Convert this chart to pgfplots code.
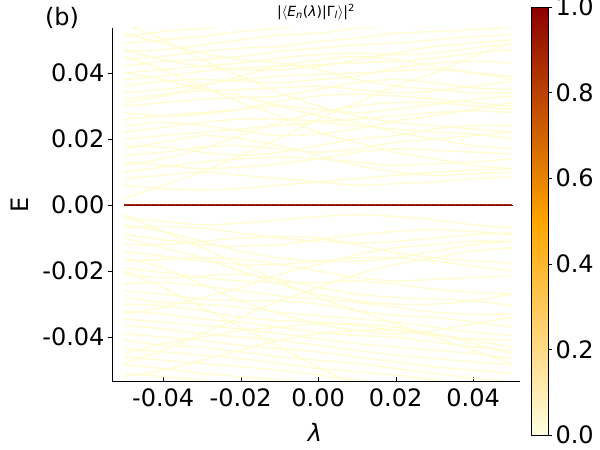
\documentclass[border=0pt]{standalone}
\usepackage{pgfplots}
\pgfplotsset{compat=1.18}
\usepackage{fontspec}
\setmainfont{DejaVu Sans}
\definecolor{lev}{RGB}{255,252,210}
\definecolor{zero}{RGB}{175,35,10}
\definecolor{zerod}{RGB}{100,0,0}
\pgfplotsset{colormap={heat}{rgb255=(255,255,224) rgb255=(255,165,0) rgb255=(139,0,0)},
  lv/.style={color=lev, solid, line width=1.4pt, smooth, mark=none}}
\begin{document}
\begin{tikzpicture}
\useasboundingbox (0pt,0pt) rectangle (600pt,450pt);
\begin{axis}[
  at={(112pt,69pt)}, anchor=south west,
  width=408pt, height=353pt, scale only axis,
  xmin=-0.0532, xmax=0.0521, ymin=-0.0533, ymax=0.0536,
  axis lines=left, axis line style={-},
  x axis line style={-}, y axis line style={-},
  scaled ticks=false,
  xtick={-0.04,-0.02,0,0.02,0.04},
  ytick={-0.04,-0.02,0,0.02,0.04},
  /pgf/number format/fixed, /pgf/number format/fixed zerofill, /pgf/number format/precision=2, /pgf/number format/assume math mode=true,
  ticklabel style={font=\fontsize{24}{28}\selectfont},
  major tick length=4pt, tick align=outside,
  tick style={black},
  x tick style={yshift=4pt},
]
\addplot[lv] coordinates {(-0.05,0.006)(-0.04,0.005)(-0.03,0.0045)(-0.02,0.005)(-0.01,0.006)(0,0.007)(0.01,0.008)(0.02,0.009)(0.03,0.010)(0.04,0.0105)(0.05,0.011)};
\addplot[lv] coordinates {(-0.05,0.008)(-0.04,0.009)(-0.03,0.010)(-0.02,0.009)(-0.01,0.008)(0,0.007)(0.01,0.006)(0.02,0.0065)(0.03,0.007)(0.04,0.008)(0.05,0.0085)};
\addplot[lv] coordinates {(-0.05,0.010)(-0.04,0.0115)(-0.03,0.013)(-0.02,0.014)(-0.01,0.0145)(0,0.014)(0.01,0.013)(0.02,0.012)(0.03,0.0125)(0.04,0.013)(0.05,0.014)};
\addplot[lv] coordinates {(-0.05,0.013)(-0.04,0.012)(-0.03,0.011)(-0.02,0.0115)(-0.01,0.0125)(0,0.014)(0.01,0.016)(0.02,0.017)(0.03,0.0165)(0.04,0.016)(0.05,0.0155)};
\addplot[lv] coordinates {(-0.05,0.015)(-0.04,0.016)(-0.03,0.0175)(-0.02,0.018)(-0.01,0.017)(0,0.016)(0.01,0.017)(0.02,0.019)(0.03,0.020)(0.04,0.021)(0.05,0.022)};
\addplot[lv] coordinates {(-0.05,0.018)(-0.04,0.0175)(-0.03,0.016)(-0.02,0.015)(-0.01,0.016)(0,0.018)(0.01,0.020)(0.02,0.021)(0.03,0.023)(0.04,0.024)(0.05,0.024)};
\addplot[lv] coordinates {(-0.05,0.020)(-0.04,0.021)(-0.03,0.022)(-0.02,0.023)(-0.01,0.024)(0,0.025)(0.01,0.024)(0.02,0.023)(0.03,0.022)(0.04,0.0215)(0.05,0.020)};
\addplot[lv] coordinates {(-0.05,0.022)(-0.04,0.0235)(-0.03,0.025)(-0.02,0.026)(-0.01,0.026)(0,0.0255)(0.01,0.026)(0.02,0.027)(0.03,0.028)(0.04,0.0285)(0.05,0.028)};
\addplot[lv] coordinates {(-0.05,0.024)(-0.04,0.025)(-0.03,0.024)(-0.02,0.0225)(-0.01,0.021)(0,0.0215)(0.01,0.023)(0.02,0.0255)(0.03,0.027)(0.04,0.029)(0.05,0.031)};
\addplot[lv] coordinates {(-0.05,0.026)(-0.04,0.027)(-0.03,0.028)(-0.02,0.029)(-0.01,0.030)(0,0.029)(0.01,0.028)(0.02,0.029)(0.03,0.0305)(0.04,0.032)(0.05,0.033)};
\addplot[lv] coordinates {(-0.05,0.028)(-0.04,0.027)(-0.03,0.0275)(-0.02,0.029)(-0.01,0.0315)(0,0.033)(0.01,0.0335)(0.02,0.033)(0.03,0.032)(0.04,0.031)(0.05,0.030)};
\addplot[lv] coordinates {(-0.05,0.030)(-0.04,0.031)(-0.03,0.032)(-0.02,0.0325)(-0.01,0.033)(0,0.035)(0.01,0.037)(0.02,0.038)(0.03,0.037)(0.04,0.0355)(0.05,0.035)};
\addplot[lv] coordinates {(-0.05,0.032)(-0.04,0.0335)(-0.03,0.0345)(-0.02,0.035)(-0.01,0.0355)(0,0.036)(0.01,0.035)(0.02,0.034)(0.03,0.0345)(0.04,0.036)(0.05,0.0375)};
\addplot[lv] coordinates {(-0.05,0.034)(-0.04,0.035)(-0.03,0.0365)(-0.02,0.038)(-0.01,0.039)(0,0.0395)(0.01,0.040)(0.02,0.0405)(0.03,0.041)(0.04,0.040)(0.05,0.039)};
\addplot[lv] coordinates {(-0.05,0.036)(-0.04,0.0375)(-0.03,0.038)(-0.02,0.0375)(-0.01,0.037)(0,0.038)(0.01,0.039)(0.02,0.0415)(0.03,0.043)(0.04,0.0435)(0.05,0.043)};
\addplot[lv] coordinates {(-0.05,0.038)(-0.04,0.039)(-0.03,0.0405)(-0.02,0.0415)(-0.01,0.042)(0,0.0425)(0.01,0.043)(0.02,0.0435)(0.03,0.0445)(0.04,0.046)(0.05,0.047)};
\addplot[lv] coordinates {(-0.05,0.040)(-0.04,0.041)(-0.03,0.042)(-0.02,0.043)(-0.01,0.0445)(0,0.0455)(0.01,0.046)(0.02,0.0455)(0.03,0.046)(0.04,0.0475)(0.05,0.049)};
\addplot[lv] coordinates {(-0.05,0.042)(-0.04,0.0435)(-0.03,0.044)(-0.02,0.045)(-0.01,0.0465)(0,0.0475)(0.01,0.0485)(0.02,0.049)(0.03,0.050)(0.04,0.051)(0.05,0.0515)};
\addplot[lv] coordinates {(-0.05,0.044)(-0.04,0.045)(-0.03,0.0465)(-0.02,0.0475)(-0.01,0.048)(0,0.0495)(0.01,0.0505)(0.02,0.052)(0.03,0.0525)(0.04,0.053)(0.05,0.054)};
\addplot[lv] coordinates {(-0.05,0.0465)(-0.04,0.047)(-0.03,0.0485)(-0.02,0.050)(-0.01,0.0515)(0,0.052)(0.01,0.0535)(0.02,0.0545)(0.03,0.055)(0.04,0.056)(0.05,0.057)};
\addplot[lv] coordinates {(-0.05,0.049)(-0.04,0.050)(-0.03,0.051)(-0.02,0.0525)(-0.01,0.0535)(0,0.055)(0.01,0.056)(0.02,0.0565)(0.03,0.0575)(0.04,0.058)(0.05,0.059)};
\addplot[lv] coordinates {(-0.05,0.051)(-0.04,0.0525)(-0.03,0.0535)(-0.02,0.055)(-0.01,0.056)(0,0.057)(0.01,0.058)(0.02,0.059)(0.03,0.060)(0.04,0.061)(0.05,0.062)};
\addplot[lv] coordinates {(-0.05,0.002)(-0.04,0.006)(-0.03,0.010)(-0.02,0.015)(-0.01,0.020)(0,0.026)(0.01,0.031)(0.02,0.036)(0.03,0.040)(0.04,0.045)(0.05,0.049)};
\addplot[lv] coordinates {(-0.05,0.045)(-0.04,0.041)(-0.03,0.036)(-0.02,0.031)(-0.01,0.027)(0,0.022)(0.01,0.019)(0.02,0.016)(0.03,0.014)(0.04,0.012)(0.05,0.011)};
\addplot[lv] coordinates {(-0.05,0.055)(-0.04,0.050)(-0.03,0.044)(-0.02,0.039)(-0.01,0.034)(0,0.030)(0.01,0.027)(0.02,0.025)(0.03,0.024)(0.04,0.023)(0.05,0.022)};
\addplot[lv] coordinates {(-0.05,0.047)(-0.04,0.044)(-0.03,0.042)(-0.02,0.041)(-0.01,0.041)(0,0.042)(0.01,0.044)(0.02,0.046)(0.03,0.048)(0.04,0.049)(0.05,0.050)};
\addplot[lv] coordinates {(-0.05,0.031)(-0.04,0.033)(-0.03,0.036)(-0.02,0.039)(-0.01,0.042)(0,0.044)(0.01,0.045)(0.02,0.044)(0.03,0.042)(0.04,0.040)(0.05,0.038)};
\addplot[lv] coordinates {(-0.05,0.017)(-0.04,0.019)(-0.03,0.021)(-0.02,0.020)(-0.01,0.018)(0,0.015)(0.01,0.012)(0.02,0.010)(0.03,0.009)(0.04,0.0095)(0.05,0.010)};
\addplot[lv] coordinates {(-0.05,0.052)(-0.04,0.049)(-0.03,0.046)(-0.02,0.044)(-0.01,0.043)(0,0.041)(0.01,0.038)(0.02,0.036)(0.03,0.035)(0.04,0.034)(0.05,0.034)};
\addplot[lv] coordinates {(-0.05,0.040)(-0.04,0.038)(-0.03,0.035)(-0.02,0.033)(-0.01,0.030)(0,0.027)(0.01,0.025)(0.02,0.022)(0.03,0.020)(0.04,0.018)(0.05,0.017)};
\addplot[lv] coordinates {(-0.05,0.012)(-0.04,0.014)(-0.03,0.017)(-0.02,0.021)(-0.01,0.025)(0,0.028)(0.01,0.030)(0.02,0.031)(0.03,0.031)(0.04,0.030)(0.05,0.029)};
\addplot[lv] coordinates {(-0.05,-0.004)(-0.04,-0.005)(-0.03,-0.006)(-0.02,-0.0055)(-0.01,-0.0045)(0,-0.0035)(0.01,-0.003)(0.02,-0.0035)(0.03,-0.0045)(0.04,-0.006)(0.05,-0.007)};
\addplot[lv] coordinates {(-0.05,-0.007)(-0.04,-0.0065)(-0.03,-0.007)(-0.02,-0.0085)(-0.01,-0.010)(0,-0.011)(0.01,-0.0115)(0.02,-0.011)(0.03,-0.010)(0.04,-0.009)(0.05,-0.0085)};
\addplot[lv] coordinates {(-0.05,-0.009)(-0.04,-0.0105)(-0.03,-0.012)(-0.02,-0.0125)(-0.01,-0.012)(0,-0.0105)(0.01,-0.009)(0.02,-0.008)(0.03,-0.0075)(0.04,-0.008)(0.05,-0.009)};
\addplot[lv] coordinates {(-0.05,-0.012)(-0.04,-0.012)(-0.03,-0.011)(-0.02,-0.010)(-0.01,-0.0095)(0,-0.010)(0.01,-0.012)(0.02,-0.0145)(0.03,-0.016)(0.04,-0.017)(0.05,-0.0175)};
\addplot[lv] coordinates {(-0.05,-0.014)(-0.04,-0.0155)(-0.03,-0.017)(-0.02,-0.018)(-0.01,-0.018)(0,-0.017)(0.01,-0.016)(0.02,-0.016)(0.03,-0.017)(0.04,-0.0185)(0.05,-0.020)};
\addplot[lv] coordinates {(-0.05,-0.017)(-0.04,-0.0165)(-0.03,-0.016)(-0.02,-0.0165)(-0.01,-0.018)(0,-0.020)(0.01,-0.022)(0.02,-0.023)(0.03,-0.0225)(0.04,-0.022)(0.05,-0.0215)};
\addplot[lv] coordinates {(-0.05,-0.019)(-0.04,-0.0205)(-0.03,-0.022)(-0.02,-0.023)(-0.01,-0.0235)(0,-0.0235)(0.01,-0.023)(0.02,-0.024)(0.03,-0.0255)(0.04,-0.0265)(0.05,-0.027)};
\addplot[lv] coordinates {(-0.05,-0.021)(-0.04,-0.022)(-0.03,-0.0215)(-0.02,-0.021)(-0.01,-0.0225)(0,-0.025)(0.01,-0.027)(0.02,-0.028)(0.03,-0.0285)(0.04,-0.029)(0.05,-0.0305)};
\addplot[lv] coordinates {(-0.05,-0.024)(-0.04,-0.0235)(-0.03,-0.0245)(-0.02,-0.026)(-0.01,-0.0275)(0,-0.0285)(0.01,-0.0295)(0.02,-0.031)(0.03,-0.0325)(0.04,-0.033)(0.05,-0.033)};
\addplot[lv] coordinates {(-0.05,-0.026)(-0.04,-0.027)(-0.03,-0.0285)(-0.02,-0.029)(-0.01,-0.029)(0,-0.030)(0.01,-0.032)(0.02,-0.0335)(0.03,-0.034)(0.04,-0.0355)(0.05,-0.037)};
\addplot[lv] coordinates {(-0.05,-0.028)(-0.04,-0.0295)(-0.03,-0.030)(-0.02,-0.031)(-0.01,-0.0325)(0,-0.0335)(0.01,-0.0345)(0.02,-0.0355)(0.03,-0.037)(0.04,-0.0385)(0.05,-0.0395)};
\addplot[lv] coordinates {(-0.05,-0.030)(-0.04,-0.0305)(-0.03,-0.032)(-0.02,-0.034)(-0.01,-0.035)(0,-0.0355)(0.01,-0.0365)(0.02,-0.038)(0.03,-0.0395)(0.04,-0.0405)(0.05,-0.041)};
\addplot[lv] coordinates {(-0.05,-0.032)(-0.04,-0.033)(-0.03,-0.0345)(-0.02,-0.0355)(-0.01,-0.037)(0,-0.0385)(0.01,-0.0395)(0.02,-0.040)(0.03,-0.0415)(0.04,-0.043)(0.05,-0.044)};
\addplot[lv] coordinates {(-0.05,-0.0345)(-0.04,-0.0355)(-0.03,-0.0365)(-0.02,-0.0375)(-0.01,-0.039)(0,-0.0405)(0.01,-0.042)(0.02,-0.043)(0.03,-0.044)(0.04,-0.045)(0.05,-0.0465)};
\addplot[lv] coordinates {(-0.05,-0.0365)(-0.04,-0.0375)(-0.03,-0.039)(-0.02,-0.040)(-0.01,-0.041)(0,-0.0425)(0.01,-0.044)(0.02,-0.0455)(0.03,-0.0465)(0.04,-0.0475)(0.05,-0.0485)};
\addplot[lv] coordinates {(-0.05,-0.039)(-0.04,-0.040)(-0.03,-0.041)(-0.02,-0.0425)(-0.01,-0.0435)(0,-0.0445)(0.01,-0.046)(0.02,-0.0475)(0.03,-0.049)(0.04,-0.050)(0.05,-0.051)};
\addplot[lv] coordinates {(-0.05,-0.041)(-0.04,-0.0425)(-0.03,-0.043)(-0.02,-0.0445)(-0.01,-0.046)(0,-0.047)(0.01,-0.048)(0.02,-0.0495)(0.03,-0.051)(0.04,-0.0525)(0.05,-0.0535)};
\addplot[lv] coordinates {(-0.05,-0.0435)(-0.04,-0.0445)(-0.03,-0.0455)(-0.02,-0.0465)(-0.01,-0.048)(0,-0.0495)(0.01,-0.0505)(0.02,-0.0515)(0.03,-0.053)(0.04,-0.0545)(0.05,-0.056)};
\addplot[lv] coordinates {(-0.05,-0.046)(-0.04,-0.047)(-0.03,-0.048)(-0.02,-0.049)(-0.01,-0.050)(0,-0.0515)(0.01,-0.053)(0.02,-0.054)(0.03,-0.055)(0.04,-0.0565)(0.05,-0.058)};
\addplot[lv] coordinates {(-0.05,-0.0485)(-0.04,-0.0495)(-0.03,-0.051)(-0.02,-0.052)(-0.01,-0.053)(0,-0.054)(0.01,-0.0555)(0.02,-0.0565)(0.03,-0.0575)(0.04,-0.059)(0.05,-0.060)};
\addplot[lv] coordinates {(-0.05,-0.051)(-0.04,-0.052)(-0.03,-0.053)(-0.02,-0.0545)(-0.01,-0.0555)(0,-0.0565)(0.01,-0.0575)(0.02,-0.059)(0.03,-0.060)(0.04,-0.061)(0.05,-0.062)};
\addplot[lv] coordinates {(-0.05,-0.003)(-0.04,-0.008)(-0.03,-0.013)(-0.02,-0.018)(-0.01,-0.023)(0,-0.028)(0.01,-0.032)(0.02,-0.036)(0.03,-0.040)(0.04,-0.044)(0.05,-0.048)};
\addplot[lv] coordinates {(-0.05,-0.048)(-0.04,-0.044)(-0.03,-0.039)(-0.02,-0.034)(-0.01,-0.029)(0,-0.025)(0.01,-0.021)(0.02,-0.018)(0.03,-0.016)(0.04,-0.014)(0.05,-0.013)};
\addplot[lv] coordinates {(-0.05,-0.020)(-0.04,-0.025)(-0.03,-0.031)(-0.02,-0.037)(-0.01,-0.043)(0,-0.049)(0.01,-0.055)(0.02,-0.060)(0.03,-0.064)(0.04,-0.067)(0.05,-0.070)};
\addplot[lv] coordinates {(-0.05,-0.010)(-0.04,-0.013)(-0.03,-0.016)(-0.02,-0.020)(-0.01,-0.024)(0,-0.027)(0.01,-0.029)(0.02,-0.030)(0.03,-0.030)(0.04,-0.029)(0.05,-0.027)};
\addplot[lv] coordinates {(-0.05,-0.033)(-0.04,-0.031)(-0.03,-0.028)(-0.02,-0.025)(-0.01,-0.021)(0,-0.018)(0.01,-0.015)(0.02,-0.013)(0.03,-0.012)(0.04,-0.011)(0.05,-0.011)};
\addplot[lv] coordinates {(-0.05,-0.045)(-0.04,-0.042)(-0.03,-0.040)(-0.02,-0.038)(-0.01,-0.037)(0,-0.036)(0.01,-0.036)(0.02,-0.037)(0.03,-0.039)(0.04,-0.041)(0.05,-0.043)};
\addplot[lv] coordinates {(-0.05,-0.016)(-0.04,-0.019)(-0.03,-0.024)(-0.02,-0.029)(-0.01,-0.033)(0,-0.036)(0.01,-0.038)(0.02,-0.039)(0.03,-0.038)(0.04,-0.036)(0.05,-0.034)};
\addplot[lv] coordinates {(-0.05,-0.052)(-0.04,-0.050)(-0.03,-0.047)(-0.02,-0.044)(-0.01,-0.041)(0,-0.039)(0.01,-0.038)(0.02,-0.038)(0.03,-0.039)(0.04,-0.042)(0.05,-0.045)};
\addplot[lv] coordinates {(-0.05,-0.006)(-0.04,-0.008)(-0.03,-0.011)(-0.02,-0.014)(-0.01,-0.016)(0,-0.017)(0.01,-0.017)(0.02,-0.016)(0.03,-0.014)(0.04,-0.012)(0.05,-0.011)};
\addplot[zero, line width=1.8pt, sharp plot, mark=none] coordinates {(-0.05,0)(-0.04,0)(-0.03,0)(-0.02,0)(-0.01,0)(0,0)(0.01,0)(0.02,0)(0.03,0)(0.04,0)(0.05,0)};
\addplot[zerod, line width=0.9pt, sharp plot, mark=none, dash pattern=on 0.8pt off 0.8pt] coordinates {(-0.05,0)(0.05,0)};
\end{axis}
\begin{axis}[
  at={(531pt,15pt)}, anchor=south west,
  width=17pt, height=428pt, scale only axis,
  view={0}{90},
  xmin=0, xmax=1, ymin=0, ymax=1,
  xtick=\empty,
  ytick={0,0.2,0.4,0.6,0.8,1},
  yticklabel pos=right, ytick pos=right,
  scaled ticks=false,
  /pgf/number format/fixed, /pgf/number format/fixed zerofill, /pgf/number format/precision=1, /pgf/number format/assume math mode=true,
  yticklabel style={font=\fontsize{24}{28}\selectfont},
  major tick length=4pt, tick align=outside, tick style={black},
  colormap name=heat,
  point meta min=0, point meta max=1,
  axis on top,
]
\addplot3[surf, shader=interp, point meta=y] coordinates {(0,0,0) (1,0,0)

(0,1,0) (1,1,0)};
\end{axis}
\node[font=\fontsize{24}{28}\selectfont, rotate=90] at (20pt,245pt) {E};
\node[font=\fontsize{24}{28}\selectfont] at (315pt,18pt) {\textit{λ}};
\node[font=\fontsize{24}{28}\selectfont] at (62pt,432pt) {(b)};
\node[font=\fontsize{14}{16}\selectfont] at (316pt,438pt) {|$\langle$\textit{E}\textsubscript{\textit{n}}(\textit{λ})|Γ\textsubscript{\textit{l}}$\rangle$|\textsuperscript{2}};
\end{tikzpicture}
\end{document}
